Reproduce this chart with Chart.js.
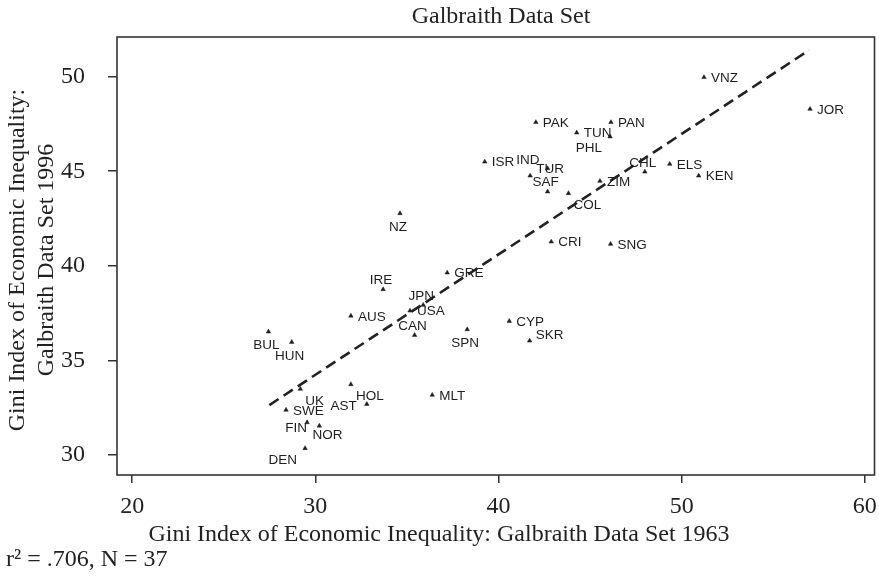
<!DOCTYPE html>
<html>
<head>
<meta charset="utf-8">
<script src="https://cdn.jsdelivr.net/npm/chart.js@4.4.1/dist/chart.umd.min.js"></script>
<style>
  html, body { margin: 0; padding: 0; background: #fff; }
  #wrap { width: 879px; height: 580px; }
</style>
</head>
<body>
<div id="wrap"><canvas id="gini-chart" width="879" height="580"></canvas></div>
<script>
// values
var countries = ['GRE', 'IRE', 'JPN', 'USA', 'CAN', 'AUS', 'BUL', 'HUN', 'SPN', 'CYP',
  'SKR', 'UK', 'SWE', 'HOL', 'AST', 'MLT', 'FIN', 'NOR', 'DEN', 'PAK',
  'TUN', 'PAN', 'PHL', 'ISR', 'IND', 'TUR', 'SAF', 'COL', 'ZIM', 'NZ',
  'CRI', 'SNG', 'VNZ', 'JOR', 'CHL', 'ELS', 'KEN'];
var gini1963 = [37.20, 33.70, 35.89, 35.17, 35.42, 31.94, 27.44, 28.71, 38.29, 40.59,
  41.70, 29.18, 28.40, 31.94, 32.81, 36.38, 29.55, 30.22, 29.44, 42.04,
  44.27, 46.14, 46.09, 39.25, 42.68, 41.73, 42.68, 43.82, 45.54, 34.62,
  42.88, 46.12, 51.22, 57.01, 47.99, 49.35, 50.93];
var gini1996 = [39.63, 38.75, 37.92, 37.62, 36.33, 37.35, 36.51, 35.96, 36.63, 37.07,
  36.03, 33.48, 32.37, 33.72, 32.68, 33.16, 31.71, 31.53, 30.34, 47.59,
  47.04, 47.59, 46.83, 45.50, 45.15, 44.76, 43.92, 43.83, 44.48, 42.77,
  41.27, 41.15, 49.97, 48.29, 44.97, 45.38, 44.76];
// clock position of each marker label
var labelPos = [3, 12, 12, 3, 12, 3, 6, 6, 6, 3,
  2, 4, 3, 4, 9, 3, 8, 5, 7, 3,
  3, 3, 7, 3, 10, 2, 12, 4, 3, 6,
  3, 3, 3, 3, 12, 3, 3];
var fitX = [27.49, 56.97];
var fitY = [32.63, 51.41];
var xTicks = [20, 30, 40, 50, 60];
var yTicks = [30, 35, 40, 45, 50];

var SERIF = "'Liberation Serif', 'Times New Roman', serif";
var SANS = "'Liberation Sans', Arial, sans-serif";

// label offsets for each clock position
var clockOffsets = {
  2: { align: 'left', dx: 6, dy: -6 },
  3: { align: 'left', dx: 7, dy: 1 },
  4: { align: 'left', dx: 5, dy: 12 },
  5: { align: 'center', dx: 8, dy: 9 },
  6: { align: 'center', dx: -2, dy: 14 },
  7: { align: 'right', dx: -8, dy: 12 },
  8: { align: 'right', dx: 0, dy: 6 },
  9: { align: 'right', dx: -10, dy: 2 },
  10: { align: 'right', dx: -8, dy: -8 },
  12: { align: 'center', dx: -2, dy: -9 }
};

var points = gini1963.map(function (x, i) {
  return { x: x, y: gini1996[i] };
});

var extrasPlugin = {
  id: 'extras',
  afterDatasetsDraw: function (chart) {
    var ctx = chart.ctx;
    var meta = chart.getDatasetMeta(0);
    ctx.save();
    ctx.fillStyle = '#1e1e1e';
    ctx.font = '13.5px ' + SANS;
    ctx.textBaseline = 'middle';
    meta.data.forEach(function (pt, i) {
      var o = clockOffsets[labelPos[i]];
      ctx.textAlign = o.align;
      ctx.fillText(countries[i], pt.x + o.dx, pt.y + o.dy);
    });
    ctx.restore();
  },
  afterDraw: function (chart) {
    var ctx = chart.ctx;
    var a = chart.chartArea;
    ctx.save();
    // frame
    ctx.strokeStyle = '#333';
    ctx.lineWidth = 1.6;
    ctx.strokeRect(a.left, a.top, a.right - a.left, a.bottom - a.top);

    ctx.fillStyle = '#222';
    ctx.font = '24px ' + SERIF;
    ctx.textBaseline = 'middle';
    ctx.textAlign = 'center';
    // title
    ctx.fillText('Galbraith Data Set', 501, 17);
    // x title
    ctx.fillText('Gini Index of Economic Inequality: Galbraith Data Set 1963', 439, 535);
    // note
    ctx.textAlign = 'left';
    ctx.textBaseline = 'alphabetic';
    ctx.fillText('r\u00b2 = .706, N = 37', 6, 566);
    // y title
    ctx.translate(0, (a.top + a.bottom) / 2 + 4);
    ctx.rotate(-Math.PI / 2);
    ctx.textAlign = 'center';
    ctx.textBaseline = 'middle';
    ctx.fillText('Gini Index of Economic Inequality:', 0, 18);
    ctx.fillText('Galbraith Data Set 1996', 0, 47);
    ctx.restore();
  }
};

new Chart(document.getElementById('gini-chart'), {
  type: 'scatter',
  data: {
    datasets: [
      {
        label: 'Countries',
        data: points,
        pointStyle: 'triangle',
        pointRadius: 2.6,
        backgroundColor: '#1e1e1e',
        borderColor: '#1e1e1e',
        borderWidth: 0.5
      },
      {
        type: 'line',
        label: 'Fit',
        data: fitX.map(function (x, i) { return { x: x, y: fitY[i] }; }),
        borderColor: '#222',
        borderWidth: 2.6,
        borderDash: [11, 6],
        pointRadius: 0,
        fill: false
      }
    ]
  },
  options: {
    responsive: false,
    animation: false,
    layout: { padding: { top: 37, right: 2, bottom: 0, left: 0 } },
    plugins: {
      legend: { display: false },
      tooltip: { enabled: false },
      title: { display: false }
    },
    scales: {
      x: {
        type: 'linear',
        min: 19.17,
        max: 60.53,
        afterBuildTicks: function (scale) {
          scale.ticks = xTicks.map(function (v) { return { value: v }; });
        },
        afterFit: function (scale) {
          scale.height = 105;
          scale.paddingLeft = 0;
          scale.paddingRight = 0;
        },
        border: { display: false },
        grid: { drawOnChartArea: false, drawTicks: true, tickLength: 8, tickColor: '#333', lineWidth: 1.5 },
        ticks: { color: '#222', padding: 9, maxRotation: 0, font: { family: SERIF, size: 24 } }
      },
      y: {
        type: 'linear',
        min: 28.93,
        max: 52.1,
        afterBuildTicks: function (scale) {
          scale.ticks = yTicks.map(function (v) { return { value: v }; });
        },
        afterFit: function (scale) {
          scale.width = 117;
          scale.paddingTop = 0;
          scale.paddingBottom = 0;
        },
        border: { display: false },
        grid: { drawOnChartArea: false, drawTicks: true, tickLength: 9, tickColor: '#333', lineWidth: 1.5 },
        ticks: { color: '#222', padding: 23, font: { family: SERIF, size: 24 } }
      }
    }
  },
  plugins: [extrasPlugin]
});
</script>
</body>
</html>
